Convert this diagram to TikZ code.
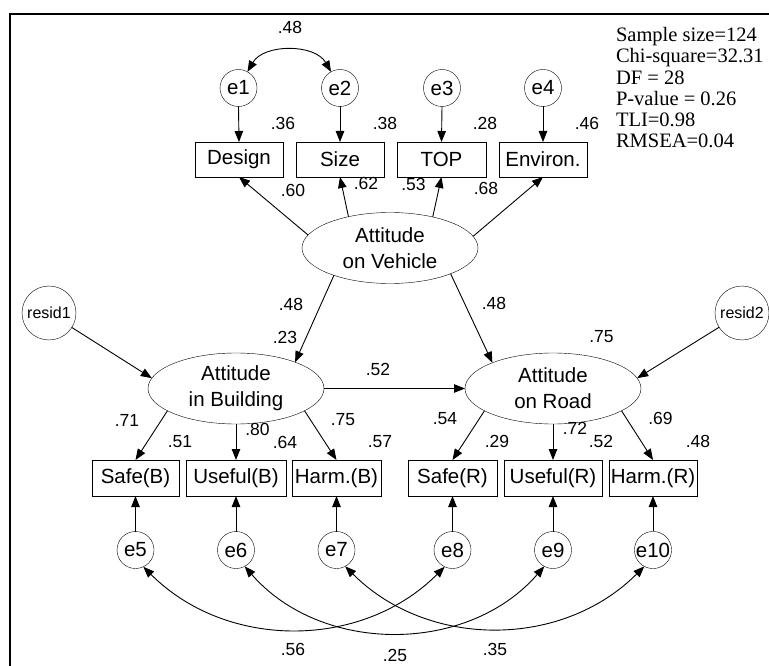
\documentclass[tikz,border=0pt]{standalone}
\usepackage{fontspec}
\setmainfont{Liberation Sans}
\newfontfamily\statfont{Liberation Serif}
\usetikzlibrary{arrows.meta,shapes.geometric}
\begin{document}
\begin{tikzpicture}[x=1pt,y=1pt,
  every node/.style={inner sep=0pt,outer sep=0pt},
  lbl/.style={font=\fontsize{20.5}{26}\selectfont},
  num/.style={font=\fontsize{17.5}{20}\selectfont},
  errc/.style={draw,circle,minimum size=37pt,lbl},
  resc/.style={draw,circle,minimum size=54pt,font=\fontsize{16}{18}\selectfont},
  obs/.style={draw,rectangle,lbl},
  lat/.style={draw,ellipse,minimum width=176pt,minimum height=71pt,align=center,lbl},
  path/.style={line width=0.9pt,-{Triangle[length=11pt,width=8.5pt]}},
  cov/.style={line width=0.9pt,{Triangle[length=11pt,width=8.5pt]}-{Triangle[length=11pt,width=8.5pt]}}
]
\useasboundingbox (0,0) rectangle (769,-666);
\draw[line width=1.3pt] (10,-666) -- (10,-14) -- (769,-14);

% top error terms
\node[errc] (e1) at (238.5,-88) {e1};
\node[errc] (e2) at (340,-88) {e2};
\node[errc] (e3) at (442,-88) {e3};
\node[errc] (e4) at (543,-88) {e4};

% top indicators
\node[obs,minimum width=88pt,minimum height=35pt] (design) at (239,-159.5) {Design};
\node[obs,minimum width=88pt,minimum height=35pt] (size) at (340,-159.5) {Size};
\node[obs,minimum width=89pt,minimum height=35pt] (top) at (441.5,-159.5) {TOP};
\node[obs,minimum width=88pt,minimum height=35pt] (env) at (543,-159.5) {Environ.};

% latent variables
\node[lat] (veh) at (390,-248) {Attitude\\on Vehicle};
\node[lat] (bld) at (236,-388.5) {Attitude\\in Building};
\node[lat] (road) at (553,-388.5) {Attitude\\on Road};

% residuals
\node[resc] (r1) at (49,-313) {resid1};
\node[resc] (r2) at (742,-313) {resid2};

% bottom indicators
\node[obs,minimum width=87pt,minimum height=36pt] (safeB) at (135.5,-478) {Safe(B)};
\node[obs,minimum width=100pt,minimum height=36pt] (useB) at (236,-478) {Useful(B)};
\node[obs,minimum width=89pt,minimum height=36pt] (harmB) at (336.5,-478) {Harm.(B)};
\node[obs,minimum width=89pt,minimum height=36pt] (safeR) at (452.5,-478) {Safe(R)};
\node[obs,minimum width=98pt,minimum height=36pt] (useR) at (553,-478) {Useful(R)};
\node[obs,minimum width=88pt,minimum height=36pt] (harmR) at (653,-478) {Harm.(R)};

% bottom error terms
\node[errc] (e5) at (135.5,-550) {e5};
\node[errc] (e6) at (236,-550) {e6};
\node[errc] (e7) at (336.5,-550) {e7};
\node[errc] (e8) at (452.5,-550) {e8};
\node[errc] (e9) at (553,-550) {e9};
\node[errc] (e10) at (653,-550) {e10};

% paths top
\draw[path] (e1.south) -- (design.north);
\draw[path] (e2.south) -- (size.north);
\draw[path] (e3.south) -- (top.north);
\draw[path] (e4.south) -- (env.north);
\draw[cov] (e1.61) to[bend left=60] (e2.119);

\draw[path] (veh.171.7) -- (design.south);
\draw[path] (veh.143.6) -- (size.south);
\draw[path] (veh.36.7) -- (top.south);
\draw[path] (veh.8) -- (env.south);

\draw[path] (veh.206) -- (bld.24);
\draw[path] (veh.337) -- (road.157.6);
\draw[path] (r1) -- (bld.173);
\draw[path] (r2) -- (road.7);
\draw[path] (bld.east) -- (road.west);

% paths bottom
\draw[path] (bld.198) -- (safeB.north);
\draw[path] (bld.south) -- (useB.north);
\draw[path] (bld.342) -- (harmB.north);
\draw[path] (road.198) -- (safeR.north);
\draw[path] (road.south) -- (useR.north);
\draw[path] (road.342) -- (harmR.north);

\draw[path] (e5.north) -- (safeB.south);
\draw[path] (e6.north) -- (useB.south);
\draw[path] (e7.north) -- (harmB.south);
\draw[path] (e8.north) -- (safeR.south);
\draw[path] (e9.north) -- (useR.south);
\draw[path] (e10.north) -- (harmR.south);

\draw[cov] (e5.-65) to[bend right=45] (e8.-115);
\draw[cov] (e6.-62) to[bend right=49] (e9.-118);
\draw[cov] (e7.-62) to[bend right=45] (e10.-118);

% coefficients
\node[num] (n1) at (290,-27) {.48};
\node[num] (n2) at (283,-123) {.36};
\node[num] (n3) at (385,-123) {.38};
\node[num] (n4) at (485,-123) {.28};
\node[num] (n5) at (587,-123) {.46};
\node[num] (n6) at (293,-190) {.60};
\node[num] (n7) at (366,-183) {.62};
\node[num] (n8) at (413.5,-184) {.53};
\node[num] (n9) at (486,-188) {.68};
\node[num] (n10) at (291,-304) {.48};
\node[num] (n11) at (285,-337) {.23};
\node[num] (n12) at (494,-303) {.48};
\node[num] (n13) at (601.5,-337) {.75};
\node[num] (n14) at (378,-369) {.52};
\node[num] (n15) at (127,-420) {.71};
\node[num] (n16) at (180,-442) {.51};
\node[num] (n17) at (257.5,-429) {.80};
\node[num] (n18) at (285,-442) {.64};
\node[num] (n19) at (343,-420) {.75};
\node[num] (n20) at (380,-442) {.57};
\node[num] (n21) at (445,-419) {.54};
\node[num] (n22) at (497,-441) {.29};
\node[num] (n23) at (575,-428) {.72};
\node[num] (n24) at (601,-441) {.52};
\node[num] (n25) at (660.5,-418) {.69};
\node[num] (n26) at (698,-441) {.48};
\node[num] (n27) at (293,-649) {.56};
\node[num] (n28) at (395,-655) {.25};
\node[num] (n29) at (495,-649) {.35};

% fit statistics
\node[anchor=north west,align=left,font=\statfont\fontsize{20.5}{21.2}\selectfont] (stats) at (616,-27.5)
 {Sample size=124\\Chi-square=32.31\\DF = 28\\P-value = 0.26\\TLI=0.98\\RMSEA=0.04};
\end{tikzpicture}
\end{document}
